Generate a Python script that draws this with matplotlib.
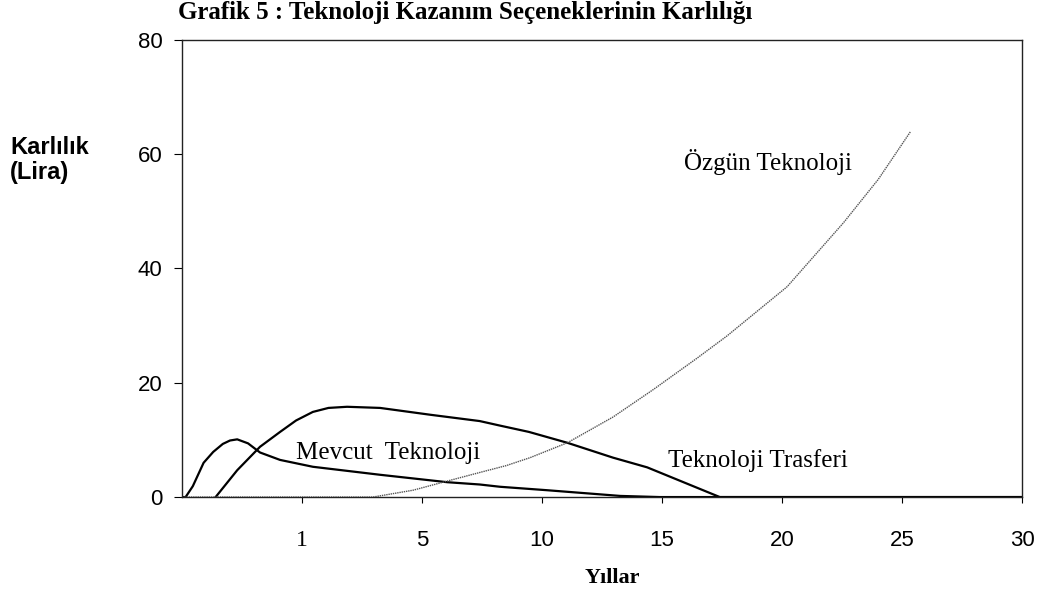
import matplotlib
matplotlib.use('Agg')
import matplotlib.pyplot as plt

# ─── Veriler (x: eksen üzerindeki konum, 0–7 arası) ──────────────────────────
tick_pos    = [1, 2, 3, 4, 5, 6, 7]
tick_labels = ["1", "5", "10", "15", "20", "25", "30"]
y_ticks     = [0, 20, 40, 60, 80]

mevcut_x = [0.0, 0.03, 0.09, 0.18, 0.26, 0.34, 0.40, 0.46, 0.55, 0.65, 0.817, 1.09,
            1.65, 2.21, 2.48, 2.65, 3.04, 3.65, 3.98, 7.0]
mevcut_y = [0.0, 0.0, 1.9, 6.0, 7.9, 9.3, 9.9, 10.1, 9.4, 7.8, 6.5, 5.3,
            3.9, 2.6, 2.2, 1.8, 1.2, 0.2, 0.0, 0.0]

transfer_x = [0.28, 0.46, 0.65, 0.817, 0.95, 1.09, 1.22, 1.375, 1.65, 2.07, 2.48,
              2.65, 2.89, 3.21, 3.59, 3.875, 4.48, 7.0]
transfer_y = [0.0, 4.7, 8.8, 11.4, 13.4, 14.9, 15.6, 15.8, 15.6, 14.4, 13.3,
              12.5, 11.4, 9.5, 6.9, 5.2, 0.0, 0.0]

ozgun_x = [0.0, 1.59, 1.925, 2.21, 2.48, 2.70, 2.90, 3.21, 3.59, 3.925, 4.29,
           4.54, 5.04, 5.51, 5.80, 6.07]
ozgun_y = [0.0, 0.0, 1.2, 2.8, 4.3, 5.5, 6.9, 9.5, 14.0, 18.8, 24.3,
           28.2, 36.8, 48.0, 55.6, 64.0]

SERIF = "Liberation Serif"
SANS  = "Liberation Sans"

fig = plt.figure(figsize=(10.4, 5.96), dpi=100)
ax = fig.add_axes([0.175, 0.166, 0.808, 0.767])

ax.plot(mevcut_x, mevcut_y, color="black", linewidth=1.6)
ax.plot(transfer_x, transfer_y, color="black", linewidth=1.6)
ax.plot(ozgun_x, ozgun_y, color="#555555", linewidth=1.0, linestyle=(0, (1, 0.6)))

ax.set_xlim(0, 7)
ax.set_ylim(0, 80)
ax.set_xticks(tick_pos)
ax.set_xticklabels(tick_labels, fontsize=16, family=SANS)
ax.set_yticks(y_ticks)
ax.set_yticklabels([str(v) for v in y_ticks], fontsize=16, family=SANS)
ax.tick_params(axis="x", length=4, pad=20)
ax.tick_params(axis="y", length=6, pad=8)
for s in ax.spines.values():
    s.set_linewidth(1.0)
    s.set_color("#222222")

# "1" etiketi kaynakta serif yazılmış
first = ax.xaxis.get_major_ticks()[0].label1
first.set_family(SERIF)
first.set_size(17)

# Eğri etiketleri
ax.text(1.72, 7.7, "Mevcut  Teknoloji", family=SERIF, fontsize=18, ha="center", va="center")
ax.text(4.80, 6.4, "Teknoloji Trasferi", family=SERIF, fontsize=18, ha="center", va="center")
ax.text(4.88, 58.7, "Özgün Teknoloji", family=SERIF, fontsize=18, ha="center", va="center")

fig.text(178 / 1040, 1 - 13 / 596, "Grafik 5 : Teknoloji Kazanım Seçeneklerinin Karlılığı",
         family=SERIF, fontweight="bold", fontsize=18, ha="left", va="center")
fig.text(10 / 1040, 1 - 160 / 596, "Karlılık\n(Lira)", family=SANS, fontweight="bold",
         fontsize=17, ha="left", va="center", linespacing=1.15)
fig.text(612 / 1040, 1 - 578 / 596, "Yıllar", family=SERIF, fontweight="bold",
         fontsize=16, ha="center", va="center")

plt.savefig("out.png", dpi=100)
plt.close()
